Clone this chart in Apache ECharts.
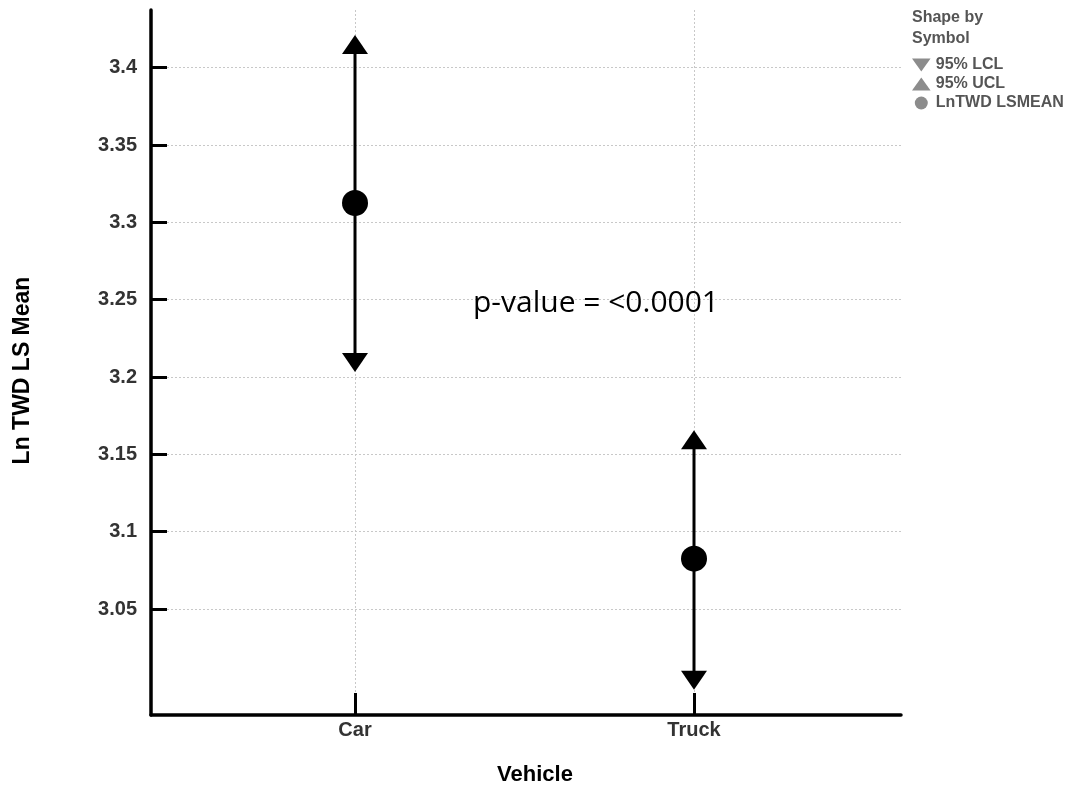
<!DOCTYPE html>
<html>
<head>
<meta charset="utf-8">
<script src="https://cdn.jsdelivr.net/npm/echarts@6/dist/echarts.min.js"></script>
<style>
html,body{margin:0;padding:0;background:#fff;}
#chart{width:1084px;height:794px;}
</style>
</head>
<body>
<div id="chart"></div>
<script>
// ---- data ----
var categories = ['Car', 'Truck'];
var lsmean = [3.3125, 3.0826];
var ucl = [3.4150, 3.1595];
var lcl = [3.2094, 3.0040];
var yTicks = [3.05, 3.1, 3.15, 3.2, 3.25, 3.3, 3.35, 3.4];
var xTicks = [0, 1];
var seriesNames = ['95% LCL', '95% UCL', 'LnTWD LSMEAN'];
var annotation = 'p-value = <0.0001';

var chart = echarts.init(document.getElementById('chart'), null, {renderer: 'canvas'});

function pts(vals) { return vals.map(function (v, i) { return [i, v]; }); }

var series = [];
categories.forEach(function (c, i) {
  series.push({
    type: 'line', silent: true, symbol: 'none', z: 2,
    data: [[i, lcl[i]], [i, ucl[i]]],
    lineStyle: {color: '#000', width: 3}
  });
});
series.push({
  name: seriesNames[0], type: 'scatter', z: 3,
  symbol: 'triangle', symbolRotate: 180, symbolSize: [26, 19],
  itemStyle: {color: '#000', opacity: 1}, data: pts(lcl)
});
series.push({
  name: seriesNames[1], type: 'scatter', z: 3,
  symbol: 'triangle', symbolSize: [26, 19],
  itemStyle: {color: '#000', opacity: 1}, data: pts(ucl)
});
series.push({
  name: seriesNames[2], type: 'scatter', z: 4,
  symbol: 'circle', symbolSize: 26,
  itemStyle: {color: '#000', opacity: 1}, data: pts(lsmean)
});

var option = {
  backgroundColor: '#fff',
  animation: false,
  title: {
    text: 'Shape by\nSymbol',
    left: 912, top: 7, padding: 0,
    textStyle: {fontFamily: 'Liberation Sans', fontWeight: 'bold', fontSize: 16, color: '#555', lineHeight: 21}
  },
  legend: {
    orient: 'vertical', left: 912, top: 57, padding: 0,
    itemGap: 3, itemWidth: 19, itemHeight: 13,
    textStyle: {fontFamily: 'Liberation Sans', fontWeight: 'bold', fontSize: 16, color: '#555'},
    data: [
      {name: seriesNames[0], icon: 'path://M0,0L20,0L10,14Z', itemStyle: {color: '#8c8c8c'}},
      {name: seriesNames[1], icon: 'path://M10,0L20,14L0,14Z', itemStyle: {color: '#8c8c8c'}},
      {name: seriesNames[2], icon: 'circle', itemStyle: {color: '#8c8c8c'}}
    ]
  },
  grid: {left: 151, right: 183, top: 10, bottom: 79, containLabel: false},
  xAxis: {
    type: 'value', min: -0.6018, max: 1.6106,
    name: 'Vehicle', nameLocation: 'middle', nameGap: 49,
    nameTextStyle: {fontFamily: 'Liberation Sans', fontWeight: 'bold', fontSize: 22, color: '#000', padding: [0, 0, 0, 18]},
    axisLine: {show: true, onZero: false, lineStyle: {color: '#000', width: 3.5}},
    axisTick: {show: true, inside: true, length: 22, customValues: xTicks, lineStyle: {color: '#000', width: 3}},
    axisLabel: {
      show: true, customValues: xTicks, margin: 5,
      fontFamily: 'Liberation Sans', fontWeight: 'bold', fontSize: 20, color: '#333',
      formatter: function (v) { return categories[Math.round(v)]; }
    },
    splitLine: {show: true, lineStyle: {color: '#c8c8c8', type: [2, 2], width: 1}}
  },
  yAxis: {
    type: 'value', min: 2.9815, max: 3.4373,
    name: 'Ln TWD LS Mean', nameLocation: 'middle', nameGap: 117,
    nameTextStyle: {fontFamily: 'Liberation Sans', fontWeight: 'bold', fontSize: 23, color: '#000', padding: [0, 16, 0, 0]},
    axisLine: {show: true, onZero: false, lineStyle: {color: '#000', width: 3.5}},
    axisTick: {show: true, inside: true, length: 16, customValues: yTicks, lineStyle: {color: '#000', width: 3}},
    axisLabel: {
      show: true, customValues: yTicks, margin: 14,
      fontFamily: 'Liberation Sans', fontWeight: 'bold', fontSize: 20, color: '#333'
    },
    splitLine: {show: true, lineStyle: {color: '#c8c8c8', type: [2, 2], width: 1}}
  },
  graphic: [{
    type: 'text', x: 473, y: 303, z: 10,
    style: {text: annotation, font: '30px "Open Sans"', fill: '#000', verticalAlign: 'middle', align: 'left'}
  }],
  series: series
};
chart.setOption(option);
</script>
</body>
</html>
